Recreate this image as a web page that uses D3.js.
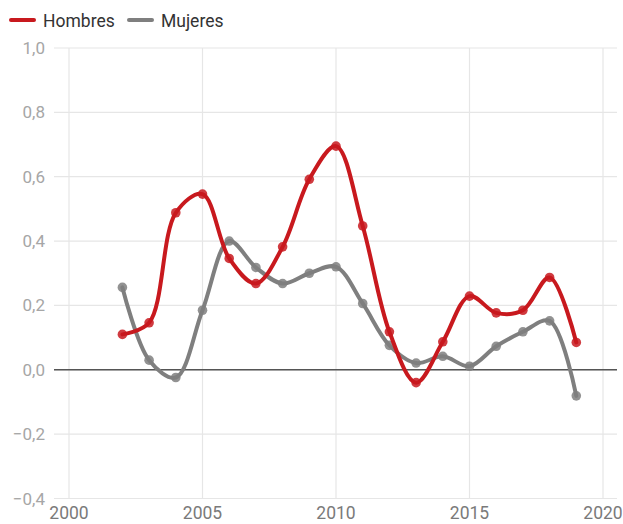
<!DOCTYPE html>
<html>
<head>
<meta charset="utf-8">
<script src="https://cdn.jsdelivr.net/npm/d3@7"></script>
<style>
  body { margin: 0; background: #fff; }
  svg { font-family: Roboto, "Noto Sans", sans-serif; }
</style>
</head>
<body>
<div id="chart"></div>
<script>
// data
const years = [2002, 2003, 2004, 2005, 2006, 2007, 2008, 2009, 2010, 2011,
               2012, 2013, 2014, 2015, 2016, 2017, 2018, 2019];
const hombres = [0.11, 0.146, 0.488, 0.546, 0.346, 0.268, 0.382, 0.592, 0.695, 0.447,
                 0.118, -0.04, 0.087, 0.229, 0.177, 0.185, 0.287, 0.085];
const mujeres = [0.256, 0.03, -0.024, 0.185, 0.40, 0.318, 0.268, 0.30, 0.32, 0.206,
                 0.076, 0.021, 0.042, 0.011, 0.073, 0.118, 0.152, -0.081];
const xTicks = [2000, 2005, 2010, 2015, 2020];
const yTicks = [-0.4, -0.2, 0, 0.2, 0.4, 0.6, 0.8, 1.0];

const width = 623, height = 524;

const series = [
    { name: "Hombres", values: hombres, color: "#c8191e" },
    { name: "Mujeres", values: mujeres, color: "#7f7f7f" }
];

const svg = d3.select("#chart")
    .append("svg")
    .attr("width", width)
    .attr("height", height);

const x = d3.scaleLinear()
    .domain([2000, 2020])
    .range([69, 603]);

const y = d3.scaleLinear()
    .domain([-0.4, 1.0])
    .range([498.5, 48]);

const gridLeft = 54, gridRight = 617;
const fmt = d => d3.format(".1f")(d).replace(".", ",").replace("-", "\u2212");

// horizontal grid
svg.append("g")
    .selectAll("line")
    .data(yTicks)
    .enter()
    .append("line")
    .attr("x1", gridLeft)
    .attr("x2", gridRight)
    .attr("y1", d => y(d))
    .attr("y2", d => y(d))
    .attr("stroke", "#e6e6e6")
    .attr("stroke-width", 1.2);

// vertical grid
svg.append("g")
    .selectAll("line")
    .data(xTicks)
    .enter()
    .append("line")
    .attr("x1", d => x(d))
    .attr("x2", d => x(d))
    .attr("y1", y(1.0))
    .attr("y2", y(-0.4))
    .attr("stroke", "#e6e6e6")
    .attr("stroke-width", 1.2);

// zero line
svg.append("line")
    .attr("x1", gridLeft)
    .attr("x2", gridRight)
    .attr("y1", y(0))
    .attr("y2", y(0))
    .attr("stroke", "#555")
    .attr("stroke-width", 1.5);

// y labels
svg.append("g")
    .selectAll("text")
    .data(yTicks)
    .enter()
    .append("text")
    .attr("x", 45)
    .attr("y", d => y(d) + 6)
    .style("text-anchor", "end")
    .style("font-size", "17px")
    .attr("fill", "#a6a6a6")
    .text(fmt);

// x labels
svg.append("g")
    .selectAll("text")
    .data(xTicks)
    .enter()
    .append("text")
    .attr("x", d => x(d))
    .attr("y", 518.5)
    .style("text-anchor", "middle")
    .style("font-size", "17.5px")
    .attr("fill", "#7a7a7a")
    .text(d => d);

const line = d3.line()
    .x((d, i) => x(years[i]))
    .y(d => y(d))
    .curve(d3.curveCatmullRom.alpha(0.5));

series.slice().reverse().forEach(s => {
    const g = svg.append("g");
    g.append("path")
        .datum(s.values)
        .attr("d", line)
        .attr("fill", "none")
        .attr("stroke", s.color)
        .attr("stroke-width", 4)
        .attr("stroke-linecap", "round")
        .attr("stroke-linejoin", "round");
    g.selectAll("circle")
        .data(s.values)
        .enter()
        .append("circle")
        .attr("cx", (d, i) => x(years[i]))
        .attr("cy", d => y(d))
        .attr("r", 4.8)
        .attr("fill", s.color)
        .attr("fill-opacity", 0.85);
});

// legend
const legendX = [11, 129];
const legend = svg.append("g")
    .selectAll("g")
    .data(series)
    .enter()
    .append("g")
    .attr("transform", (d, i) => `translate(${legendX[i]}, 20)`);

legend.append("line")
    .attr("x1", 0)
    .attr("x2", 23)
    .attr("stroke", d => d.color)
    .attr("stroke-width", 4)
    .attr("stroke-linecap", "round");

legend.append("text")
    .attr("x", 32)
    .attr("y", 7)
    .style("font-size", "17.5px")
    .attr("fill", "#333")
    .text(d => d.name);
</script>
</body>
</html>
